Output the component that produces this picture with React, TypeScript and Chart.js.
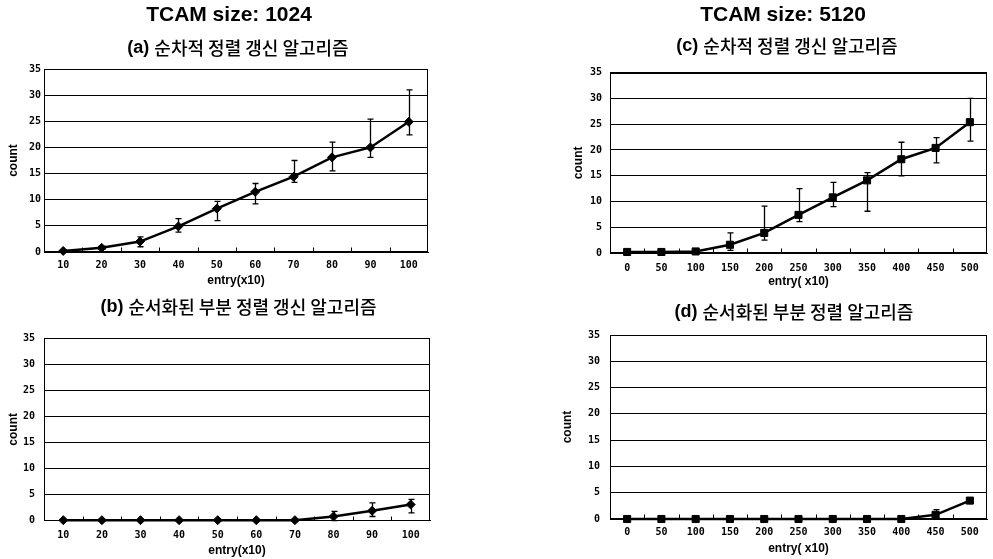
import React, { useEffect, useRef } from "react";
import { Chart, registerables } from "chart.js";

Chart.register(...registerables);

// ---------- data ----------
const categoriesLeft = ["10", "20", "30", "40", "50", "60", "70", "80", "90", "100"];
const categoriesRight = ["0", "50", "100", "150", "200", "250", "300", "350", "400", "450", "500"];
const yTickValues = [0, 5, 10, 15, 20, 25, 30, 35];

// (a) TCAM 1024, sequential sort update
const seriesA = [0.2, 0.8, 2.0, 4.9, 8.3, 11.5, 14.4, 18.1, 20.0, 24.9];
const errHighA = [0.4, 1.1, 2.9, 6.4, 9.7, 13.1, 17.5, 21.0, 25.4, 31.0];
const errLowA = [0.0, 0.5, 1.0, 3.8, 6.0, 9.2, 13.3, 15.5, 18.1, 22.4];

// (b) TCAM 1024, ordered partial sort update
const seriesB = [0.1, 0.1, 0.1, 0.1, 0.1, 0.1, 0.1, 0.8, 1.9, 3.1];
const errHighB = [null, null, null, null, null, null, null, 1.8, 3.4, 4.1];
const errLowB = [null, null, null, null, null, null, null, 0.0, 0.8, 1.5];

// (c) TCAM 5120, sequential sort update
const seriesC = [0.2, 0.2, 0.3, 1.6, 3.9, 7.4, 10.8, 14.1, 18.2, 20.4, 25.4];
const errHighC = [null, null, null, 3.9, 9.1, 12.5, 13.7, 15.6, 21.5, 22.4, 30.0];
const errLowC = [null, null, null, 0.5, 2.5, 6.1, 9.0, 8.1, 15.0, 17.5, 21.7];

// (d) TCAM 5120, ordered partial sort
const seriesD = [0, 0, 0, 0, 0, 0, 0, 0, 0, 0.8, 3.5];
const errHighD = [null, null, null, null, null, null, null, null, null, 1.8, 3.8];
const errLowD = [null, null, null, null, null, null, null, null, null, 0.0, 3.2];

// ---------- styling ----------
const SANS = "'Liberation Sans', Arial, sans-serif";
const KR = "'Noto Sans CJK KR', 'Noto Sans', sans-serif";
const MONO = "'DejaVu Sans Mono', monospace";

type Seg = { text: string; font: string };
type TextItem = { segs: Seg[]; x: number; y: number };

type Panel = {
  left: number; top: number; width: number; height: number;
  padTop: number; padRight: number;
  yWidth: number; xHeight: number;
  yLabelPad: number; xLabelPad: number; yTitlePad: number; xTitlePad: number;
  labels: string[]; values: number[];
  errLow: (number | null)[]; errHigh: (number | null)[];
  pointStyle: string; pointRadius: number;
  xTitle: string;
  texts: TextItem[];
};

const titleFont = `bold 21px ${SANS}`;
const subLetterFont = `bold 18px ${SANS}`;
const subKrFont = `500 18px ${KR}`;

const panels: Panel[] = [
  {
    left: 0, top: 0, width: 450, height: 290,
    padTop: 69, padRight: 22, yWidth: 44, xHeight: 38,
    yLabelPad: 3, xLabelPad: 7, yTitlePad: 6, xTitlePad: 1.8,
    labels: categoriesLeft, values: seriesA, errLow: errLowA, errHigh: errHighA,
    pointStyle: "rectRot", pointRadius: 4.5, xTitle: "entry(x10)",
    texts: [
      { segs: [{ text: "TCAM size: 1024", font: titleFont }], x: 229, y: 15 },
      { segs: [{ text: "(a) ", font: subLetterFont }, { text: "순차적 정렬 갱신 알고리즘", font: subKrFont }], x: 238, y: 48 },
    ],
  },
  {
    left: 0, top: 290, width: 450, height: 269,
    padTop: 48, padRight: 20, yWidth: 44, xHeight: 38.3,
    yLabelPad: 9, xLabelPad: 8.3, yTitlePad: 6, xTitlePad: 1.1,
    labels: categoriesLeft, values: seriesB, errLow: errLowB, errHigh: errHighB,
    pointStyle: "rectRot", pointRadius: 4.5, xTitle: "entry(x10)",
    texts: [
      { segs: [{ text: "(b) ", font: subLetterFont }, { text: "순서화된 부분 정렬 갱신 알고리즘", font: subKrFont }], x: 238.5, y: 307 },
    ],
  },
  {
    left: 550, top: 0, width: 443, height: 290,
    padTop: 72.7, padRight: 1, yWidth: 60, xHeight: 37,
    yLabelPad: 8, xLabelPad: 9, yTitlePad: 21.3, xTitlePad: 0.8,
    labels: categoriesRight, values: seriesC, errLow: errLowC, errHigh: errHighC,
    pointStyle: "rect", pointRadius: 5, xTitle: "entry( x10)",
    texts: [
      { segs: [{ text: "TCAM size: 5120", font: titleFont }], x: 783, y: 15 },
      { segs: [{ text: "(c) ", font: subLetterFont }, { text: "순차적 정렬 갱신 알고리즘", font: subKrFont }], x: 787, y: 46 },
    ],
  },
  {
    left: 550, top: 290, width: 443, height: 269,
    padTop: 45, padRight: 1, yWidth: 60, xHeight: 40,
    yLabelPad: 10, xLabelPad: 7, yTitlePad: 10.8, xTitlePad: 3.5,
    labels: categoriesRight, values: seriesD, errLow: errLowD, errHigh: errHighD,
    pointStyle: "rect", pointRadius: 5, xTitle: "entry( x10)",
    texts: [
      { segs: [{ text: "(d) ", font: subLetterFont }, { text: "순서화된 부분 정렬 알고리즘", font: subKrFont }], x: 794, y: 312 },
    ],
  },
];

function makeDecorPlugin(p: Panel) {
  return {
    id: "panelDecor",
    beforeDatasetsDraw(chart: any) {
      const { ctx, chartArea } = chart;
      const xs = chart.scales.x;
      const ys = chart.scales.y;
      ctx.save();
      // frame
      ctx.strokeStyle = "#000";
      ctx.lineWidth = 1;
      const l = Math.round(chartArea.left) + 0.5;
      const r = Math.round(chartArea.right) - 0.5;
      const t = Math.round(chartArea.top) + 0.5;
      const b = Math.round(chartArea.bottom) - 0.5;
      ctx.strokeRect(l, t, r - l, b - t);
      // minor tick marks at category boundaries
      ctx.beginPath();
      for (let i = 0; i < p.labels.length - 1; i++) {
        const xm = Math.round((xs.getPixelForValue(i) + xs.getPixelForValue(i + 1)) / 2) + 0.5;
        ctx.moveTo(xm, b);
        ctx.lineTo(xm, b - 4);
      }
      ctx.stroke();
      // error bars
      ctx.lineWidth = 1.3;
      ctx.beginPath();
      for (let i = 0; i < p.values.length; i++) {
        const lo = p.errLow[i];
        const hi = p.errHigh[i];
        if (lo == null || hi == null) continue;
        const x = Math.round(xs.getPixelForValue(i)) + 0.5;
        const y1 = ys.getPixelForValue(lo);
        const y2 = ys.getPixelForValue(hi);
        ctx.moveTo(x, y1);
        ctx.lineTo(x, y2);
        ctx.moveTo(x - 3, y1);
        ctx.lineTo(x + 3, y1);
        ctx.moveTo(x - 3, y2);
        ctx.lineTo(x + 3, y2);
      }
      ctx.stroke();
      ctx.restore();
    },
    afterDraw(chart: any) {
      const { ctx } = chart;
      ctx.save();
      ctx.fillStyle = "#000";
      ctx.textBaseline = "middle";
      ctx.textAlign = "left";
      for (const item of p.texts) {
        let total = 0;
        const widths: number[] = [];
        for (const s of item.segs) {
          ctx.font = s.font;
          const w = ctx.measureText(s.text).width;
          widths.push(w);
          total += w;
        }
        let x = item.x - p.left - total / 2;
        const y = item.y - p.top;
        item.segs.forEach((s, k) => {
          ctx.font = s.font;
          ctx.fillText(s.text, x, y);
          x += widths[k];
        });
      }
      ctx.restore();
    },
  };
}

function PanelChart({ p }: { p: Panel }) {
  const ref = useRef<HTMLCanvasElement | null>(null);
  useEffect(() => {
    if (!ref.current) return;
    const tickFont = { family: MONO, size: 10, weight: "bold" as const };
    const axisTitleFont = { family: SANS, size: 12, weight: "bold" as const };
    const chart = new Chart(ref.current, {
      type: "line",
      data: {
        labels: p.labels,
        datasets: [
          {
            data: p.values,
            borderColor: "#000",
            backgroundColor: "#000",
            borderWidth: 2.5,
            pointStyle: p.pointStyle as any,
            pointRadius: p.pointRadius,
            pointBackgroundColor: "#000",
            pointBorderColor: "#000",
            pointBorderWidth: 1,
            tension: 0,
            clip: false as any,
          },
        ],
      },
      options: {
        animation: false,
        responsive: false,
        maintainAspectRatio: false,
        layout: { padding: { top: p.padTop, right: p.padRight, left: 0, bottom: 0 } },
        plugins: {
          legend: { display: false },
          title: { display: false },
          tooltip: { enabled: false },
        },
        scales: {
          x: {
            type: "category",
            offset: true,
            afterFit: (s: any) => { s.height = p.xHeight; },
            ticks: { padding: p.xLabelPad, font: tickFont, color: "#000", maxRotation: 0, autoSkip: false },
            grid: { display: false, drawTicks: false },
            border: { display: true, color: "#000", width: 1 },
            title: {
              display: true, text: p.xTitle, font: axisTitleFont, color: "#000",
              padding: { top: 0, bottom: p.xTitlePad },
            },
          },
          y: {
            type: "linear",
            min: 0,
            max: 35,
            afterFit: (s: any) => { s.width = p.yWidth; },
            afterBuildTicks: (s: any) => { s.ticks = yTickValues.map((v) => ({ value: v })); },
            ticks: { padding: p.yLabelPad, font: tickFont, color: "#000" },
            grid: { color: "#000", lineWidth: 1, drawTicks: false },
            border: { display: true, color: "#000", width: 1 },
            title: {
              display: true, text: "count", font: axisTitleFont, color: "#000",
              padding: { top: p.yTitlePad, bottom: 0 },
            },
          },
        },
      },
      plugins: [makeDecorPlugin(p)],
    });
    return () => chart.destroy();
  }, [p]);
  return (
    <canvas
      ref={ref}
      width={p.width}
      height={p.height}
      style={{ position: "absolute", left: p.left, top: p.top, width: p.width, height: p.height, display: "block" }}
    />
  );
}

export default function App() {
  return (
    <div style={{ position: "absolute", left: 0, top: 0, width: 993, height: 559, background: "#fff", overflow: "hidden" }}>
      {panels.map((p, i) => (
        <PanelChart key={i} p={p} />
      ))}
    </div>
  );
}
